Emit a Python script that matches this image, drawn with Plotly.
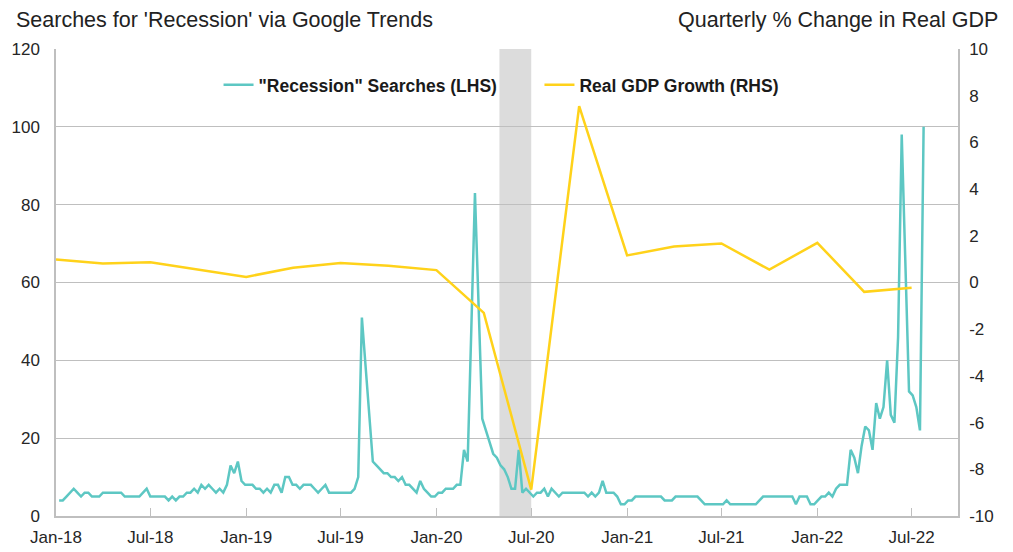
import pandas as pd
import plotly.graph_objects as go

# ---- data ----
search_start = "2018-01-07"
search_values = [
    4, 4, 5, 6, 7, 6, 5, 6, 6, 5,
    5, 5, 6, 6, 6, 6, 6, 6, 5, 5,
    5, 5, 5, 6, 7, 5, 5, 5, 5, 5,
    4, 5, 4, 5, 5, 6, 6, 7, 6, 8,
    7, 8, 7, 6, 7, 6, 8, 13, 11, 14,
    9, 8, 8, 8, 7, 7, 6, 7, 6, 8,
    8, 6, 10, 10, 8, 8, 7, 8, 8, 8,
    7, 6, 7, 8, 6, 6, 6, 6, 6, 6,
    6, 7, 10, 51, 39, 26, 14, 13, 12, 11,
    11, 10, 10, 9, 10, 8, 8, 7, 6, 9,
    7, 6, 5, 5, 6, 6, 7, 7, 7, 8,
    8, 17, 14, 48, 83, 54, 25, 22, 19, 16,
    15, 13, 12, 10, 7, 7, 17, 6, 7, 6,
    5, 6, 6, 7, 5, 7, 6, 5, 6, 6,
    6, 6, 6, 6, 6, 5, 6, 5, 6, 9,
    6, 6, 6, 5, 3, 3, 4, 4, 5, 5,
    5, 5, 5, 5, 5, 5, 4, 4, 4, 5,
    5, 5, 5, 5, 5, 5, 4, 3, 3, 3,
    3, 3, 3, 4, 3, 3, 3, 3, 3, 3,
    3, 3, 4, 5, 5, 5, 5, 5, 5, 5,
    5, 5, 3, 5, 5, 5, 3, 3, 4, 5,
    5, 6, 5, 7, 8, 8, 8, 17, 15, 11,
    18, 23, 22, 17, 29, 25, 28, 40, 26, 24,
    46, 98, 65, 32, 31, 28, 22, 100,
]
search_dates = pd.date_range(search_start, periods=len(search_values), freq="7D")

gdp_dates = pd.date_range("2018-01-01", "2022-07-01", freq="QS")
gdp_values = [0.98, 0.81, 0.87, 0.55, 0.24, 0.63, 0.84, 0.72, 0.53, -1.30,
              -8.87, 7.55, 1.16, 1.54, 1.67, 0.55, 1.70, -0.40, -0.23]

recession_band = ("2020-05-01", "2020-07-01")

tick_dates = ["2018-01-01", "2018-07-01", "2019-01-01", "2019-07-01", "2020-01-01",
              "2020-07-01", "2021-01-01", "2021-07-01", "2022-01-01", "2022-07-01"]
tick_labels = ["Jan-18", "Jul-18", "Jan-19", "Jul-19", "Jan-20",
               "Jul-20", "Jan-21", "Jul-21", "Jan-22", "Jul-22"]
x_range = ["2018-01-01", "2022-09-28"]

left_ticks = [0, 20, 40, 60, 80, 100, 120]
right_ticks = [-10, -8, -6, -4, -2, 0, 2, 4, 6, 8, 10]
right_tick_labels = [str(v) for v in right_ticks]   # plain hyphen minus, as in the original

series_names = ['"Recession" Searches (LHS)', "Real GDP Growth (RHS)"]
left_title = "Searches for 'Recession' via Google Trends"
right_title = "Quarterly % Change in Real GDP"

# ---- style ----
TEAL = "#5DC7C3"
YELLOW = "#FFD21A"
GRID = "#BFBFBF"
REG = "Liberation Sans, Arial, sans-serif"

# page body has an 8px default margin; compensate so the plot lands where the reference has it
W, H = 1005, 544
ML, MR, MT, MB = 48, 55, 41, 36
PW, PH = W - ML - MR, H - MT - MB

fig = go.Figure()
fig.add_trace(go.Scatter(x=search_dates, y=search_values, mode="lines",
                         name=series_names[0], line=dict(color=TEAL, width=2.5),
                         yaxis="y", legend="legend"))
fig.add_trace(go.Scatter(x=gdp_dates, y=gdp_values, mode="lines",
                         name=series_names[1], line=dict(color=YELLOW, width=2.5),
                         yaxis="y2", legend="legend2"))

fig.add_shape(type="rect", xref="x", yref="paper", x0=recession_band[0], x1=recession_band[1],
              y0=0, y1=1, fillcolor="#DCDCDC", line=dict(width=0), layer="below")

legend_font = dict(family=REG, size=17.5, color="#1a1a1a", weight=700)
tick_font = dict(family=REG, size=17, color="#262626")

fig.update_layout(
    width=W, height=H,
    margin=dict(l=ML, r=MR, t=MT, b=MB, autoexpand=False),
    paper_bgcolor="white", plot_bgcolor="rgba(0,0,0,0)",
    showlegend=True,
    legend=dict(x=0.1802, y=0.923, xanchor="left", yanchor="middle", orientation="h",
                font=legend_font, bgcolor="rgba(0,0,0,0)"),
    legend2=dict(x=0.5360, y=0.923, xanchor="left", yanchor="middle", orientation="h",
                 font=legend_font, bgcolor="rgba(0,0,0,0)"),
    xaxis=dict(type="date", range=x_range, tickvals=tick_dates, ticktext=tick_labels,
               ticks="inside", ticklen=8, tickcolor=GRID, tickwidth=1.3,
               showgrid=False, showline=True, linecolor=GRID, linewidth=1.5,
               tickfont=tick_font, ticklabelstandoff=5, zeroline=False, automargin=False),
    yaxis=dict(range=[0, 120], tickvals=left_ticks, showgrid=True, gridcolor=GRID, gridwidth=1.3,
               showline=True, linecolor=GRID, linewidth=1.5, zeroline=False,
               tickfont=tick_font, ticklabelstandoff=11, automargin=False),
    yaxis2=dict(range=[-10, 10], tickvals=right_ticks, ticktext=right_tick_labels,
                overlaying="y", side="right", showgrid=False,
                showline=True, linecolor=GRID, linewidth=1.5, zeroline=False,
                tickfont=tick_font, ticklabelstandoff=6, automargin=False),
)

fig.add_annotation(text=left_title, xref="paper", yref="paper",
                   x=(6 - ML) / PW, y=1 + (MT - 12) / PH, xanchor="left", yanchor="middle",
                   showarrow=False, font=dict(family=REG, size=21.5, color="#222"))
fig.add_annotation(text=right_title, xref="paper", yref="paper",
                   x=(992 - ML) / PW, y=1 + (MT - 12) / PH, xanchor="right", yanchor="middle",
                   showarrow=False, font=dict(family=REG, size=21.5, color="#222"))

fig.write_html("out.html")
